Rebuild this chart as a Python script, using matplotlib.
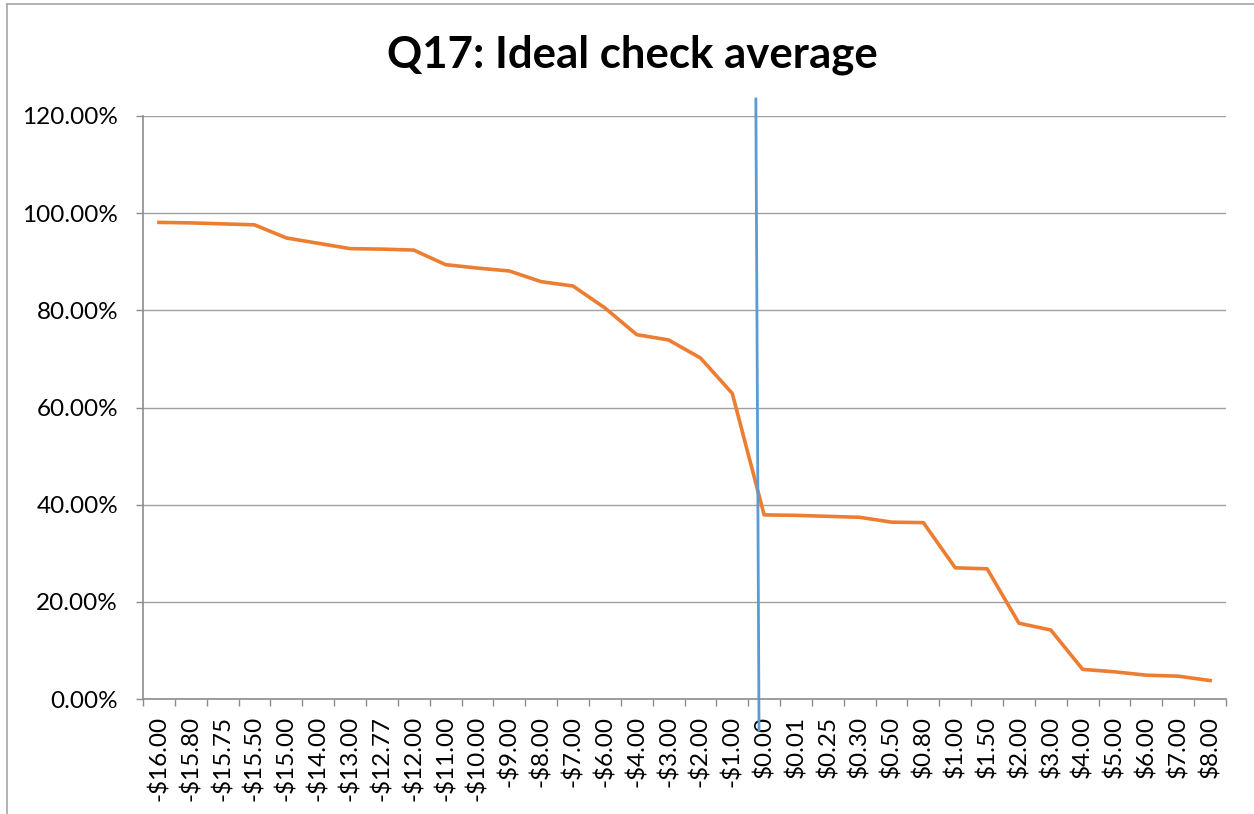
import matplotlib
matplotlib.use("Agg")
import matplotlib.pyplot as plt
from matplotlib.lines import Line2D
from matplotlib.ticker import FixedLocator, FuncFormatter

plt.rcParams['font.family'] = ['Lato', 'DejaVu Sans']

categories = ["-$16.00", "-$15.80", "-$15.75", "-$15.50", "-$15.00", "-$14.00",
              "-$13.00", "-$12.77", "-$12.00", "-$11.00", "-$10.00", "-$9.00",
              "-$8.00", "-$7.00", "-$6.00", "-$4.00", "-$3.00", "-$2.00",
              "-$1.00", "$0.00", "$0.01", "$0.25", "$0.30", "$0.50", "$0.80",
              "$1.00", "$1.50", "$2.00", "$3.00", "$4.00", "$5.00", "$6.00",
              "$7.00", "$8.00"]
values = [98.1, 98.0, 97.8, 97.6, 94.9, 93.8, 92.7, 92.6, 92.4, 89.4, 88.7, 88.1,
          85.9, 85.0, 80.5, 75.0, 73.9, 70.2, 62.9, 37.9, 37.8, 37.6, 37.4, 36.4,
          36.3, 27.0, 26.8, 15.6, 14.2, 6.1, 5.6, 4.9, 4.7, 3.8]
y_ticks = [0, 20, 40, 60, 80, 100, 120]
title = "Q17: Ideal check average"

W, H = 1254, 814
fig = plt.figure(figsize=(W / 100, H / 100), dpi=100)
ax = fig.add_axes([143 / W, 1 - 699 / H, (1226 - 143) / W, (699 - 116) / H])

xs = list(range(len(categories)))
ax.plot(xs, values, color="#ED7D31", linewidth=2.6, solid_joinstyle="round", zorder=3)

ax.set_xlim(-0.5, len(categories) - 0.5)
ax.set_ylim(0, 120)

# y axis
ax.set_yticks(y_ticks)
ax.yaxis.set_major_formatter(FuncFormatter(lambda v, p: f"{v:.2f}%"))
ax.grid(axis="y", color="#A0A0A0", linewidth=1.0)
ax.set_axisbelow(True)

# x axis: boundary ticks, labels at centres
ax.xaxis.set_major_locator(FixedLocator([i - 0.5 for i in range(len(categories) + 1)]))
ax.xaxis.set_major_formatter(FuncFormatter(lambda v, p: ""))
ax.xaxis.set_minor_locator(FixedLocator(xs))
ax.set_xticklabels(categories, minor=True, rotation=90, fontsize=17.5)
ax.tick_params(axis="x", which="major", length=5, width=1, color="#8C8C8C", direction="out")
ax.tick_params(axis="x", which="minor", length=0, pad=12)
ax.tick_params(axis="y", length=5, width=1, color="#8C8C8C", labelsize=17.5, pad=13)

for s in ["top", "right"]:
    ax.spines[s].set_visible(False)
for s in ["left", "bottom"]:
    ax.spines[s].set_color("#8C8C8C")
    ax.spines[s].set_linewidth(1.2)

# blue vertical marker line (shape drawn over the chart)
ax.plot([18.74, 18.84], [123.5, -6.4], color="#5B9BD5", linewidth=2.0,
        clip_on=False, zorder=4)

fig.text(632 / W, 1 - 55 / H, title, ha="center", va="center",
         fontsize=31.5, fontweight="bold", color="black")

# chart area border (cropped)
fig.add_artist(Line2D([7 / W, 7 / W], [0, 1 - 4 / H], transform=fig.transFigure,
                      color="#A6A6A6", linewidth=1.2))
fig.add_artist(Line2D([7 / W, 1], [1 - 4 / H, 1 - 4 / H], transform=fig.transFigure,
                      color="#A6A6A6", linewidth=1.2))

fig.savefig("out.png", dpi=100)
